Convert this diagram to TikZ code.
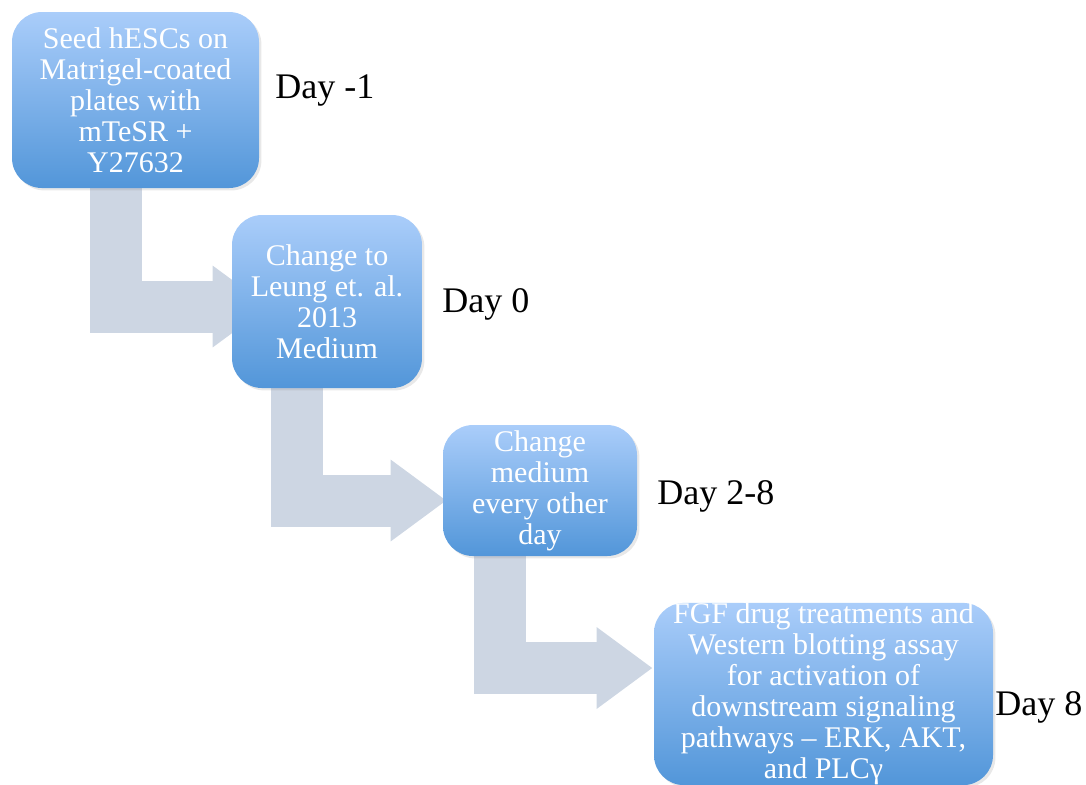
\documentclass[tikz,border=0pt]{standalone}
\usepackage{fontspec}
\setmainfont{Liberation Serif}
\usetikzlibrary{arrows.meta,calc,shadows,backgrounds}

\definecolor{boxtop}{RGB}{170,205,250}
\definecolor{boxbottom}{RGB}{82,150,217}
\definecolor{flowgray}{RGB}{205,214,227}

\tikzset{
  stage/.style={rounded corners=15pt, top color=boxtop, bottom color=boxbottom,
    text=white, align=center, inner sep=0pt,
    font=\fontsize{15}{15.5}\selectfont,
    drop shadow={opacity=0.18, shadow xshift=1.2pt, shadow yshift=-1.2pt}},
  flow/.style={draw=flowgray, line width=26pt, line join=miter,
    -{Triangle[length=28pt,width=39pt]}},
  day/.style={anchor=west, inner sep=0pt, font=\fontsize{18}{20}\selectfont}
}

\begin{document}
\begin{tikzpicture}[x=0.5pt,y=-0.5pt]
\useasboundingbox (0,0) rectangle (1086,784);
\node [stage, minimum width=123.5pt, minimum height=88pt] (s1) at (135.5,100)
  {Seed hESCs on\\Matrigel-coated\\plates with\\mTeSR +\\Y27632};
\node [stage, minimum width=95pt, minimum height=86.5pt] (s2) at (327,301.5)
  {Change to\\Leung et. al.\\2013\\Medium};
\node [stage, minimum width=97pt, minimum height=65.5pt] (s3) at (540,490.5)
  {Change\\medium\\every other\\day};
\node [stage, minimum width=169.5pt, minimum height=87pt] (s4) at (823.5,694)
  {FGF drug treatments and\\Western blotting assay\\for activation of\\downstream signaling\\pathways – ERK, AKT,\\and PLCγ};
\begin{scope}[on background layer]
\draw [flow] ($(s1.south west)+(104,-4)$) |- ($(s2.west)+(37,5)$);
\draw [flow] ($(s2.south west)+(65.5,-4)$) |- ($(s3.west)+(4,10)$);
\draw [flow] ($(s3.south west)+(57.5,-4)$) |- ($(s4.west)+(-1,-26)$);
\end{scope}
\node [day] (d1) at (275,90) {Day -1};
\node [day] (d2) at (442,304) {Day 0};
\node [day] (d3) at (657,496) {Day 2-8};
\node [day] (d4) at (995,707) {Day 8};
\end{tikzpicture}
\end{document}
